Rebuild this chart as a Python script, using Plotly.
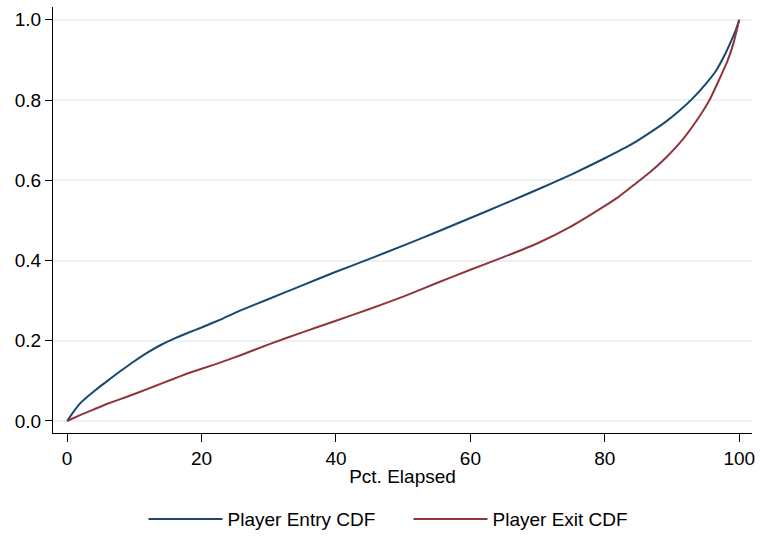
import plotly.graph_objects as go

entry_pct = [0, 1, 2, 4, 6, 8, 10, 12, 14, 16, 18, 20, 23, 26, 30, 35, 40, 45, 50, 55, 60,
             65, 70, 75, 80, 84, 87, 89, 91, 93, 95, 96.5, 98, 99, 99.5, 100]
entry_cdf = [0, 0.024, 0.045, 0.074, 0.100, 0.125, 0.149, 0.171, 0.190, 0.206, 0.220, 0.233,
             0.254, 0.277, 0.304, 0.338, 0.372, 0.404, 0.437, 0.471, 0.506, 0.541, 0.577,
             0.614, 0.655, 0.690, 0.722, 0.745, 0.772, 0.803, 0.840, 0.872, 0.918, 0.955,
             0.975, 1.0]
exit_pct = [0, 2, 4, 6, 9, 12, 14, 16, 18, 22, 26, 30, 35, 40, 45, 50, 55, 60, 65, 70, 75,
            80, 82, 84.3, 86.8, 89.2, 91.7, 94.2, 95.7, 97.2, 98.2, 99.2, 100]
exit_cdf = [0, 0.015, 0.029, 0.043, 0.061, 0.080, 0.093, 0.106, 0.119, 0.141, 0.165, 0.191,
            0.221, 0.250, 0.279, 0.310, 0.344, 0.377, 0.409, 0.443, 0.485, 0.536, 0.558,
            0.588, 0.621, 0.658, 0.704, 0.762, 0.804, 0.858, 0.895, 0.945, 1.0]
x_ticks = [0, 20, 40, 60, 80, 100]
y_ticks = [0.0, 0.2, 0.4, 0.6, 0.8, 1.0]

FONT = "Liberation Sans, Arial, sans-serif"

fig = go.Figure()
fig.add_trace(go.Scatter(x=entry_pct, y=entry_cdf, mode="lines", name="Player Entry CDF",
                         line=dict(color="#1a476f", width=2, shape="spline", smoothing=0.4)))
fig.add_trace(go.Scatter(x=exit_pct, y=exit_cdf, mode="lines", name="Player Exit CDF",
                         line=dict(color="#90353b", width=2, shape="spline", smoothing=0.4)))

fig.update_layout(
    width=760, height=536,
    margin=dict(l=53, r=8, t=7, b=103, autoexpand=False),
    paper_bgcolor="white", plot_bgcolor="white",
    font=dict(family=FONT, size=19, color="black"),
    legend=dict(orientation="h", x=0.5086, xanchor="center", y=-0.202, yanchor="middle",
                itemwidth=74, entrywidth=176, entrywidthmode="pixels",
                font=dict(size=19), traceorder="normal"),
    xaxis=dict(range=[-2.1, 101.9], tickvals=x_ticks, ticks="outside", ticklen=8,
               tickwidth=1.3, tickcolor="black", showline=True, linecolor="black",
               linewidth=1.3, showgrid=False, zeroline=False,
               title=dict(text="Pct. Elapsed", standoff=1, font=dict(size=19))),
    yaxis=dict(range=[-0.03, 1.032], tickvals=y_ticks, tickformat=".1f", ticks="outside",
               ticklen=7, tickwidth=1.3, tickcolor="black", showline=True, linecolor="black",
               linewidth=1.3, showgrid=True, gridcolor="#eaf0f3", gridwidth=1.5,
               zeroline=False),
)

fig.write_html("out.html")
